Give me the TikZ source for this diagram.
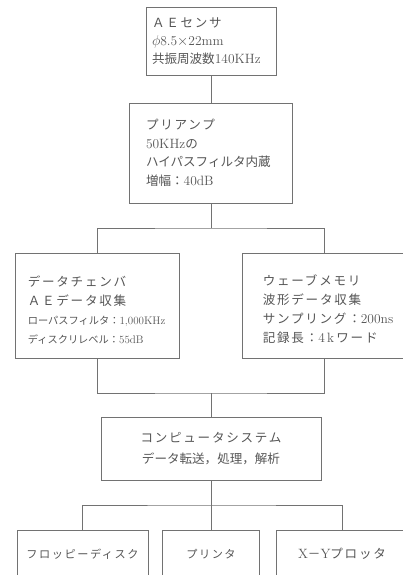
\documentclass[tikz,border=0pt]{standalone}
\usepackage{fontspec}
\newfontfamily\jp[Scale=0.93]{Noto Sans CJK JP}
\newfontfamily\jpw[Scale=0.93,LetterSpace=14]{Noto Sans CJK JP}
\definecolor{ink}{HTML}{555555}
\definecolor{rulec}{HTML}{727272}
\begin{document}
\begin{tikzpicture}[x=1pt,y=-1pt,
  box/.style={draw=rulec, line width=0.8pt, text=ink, inner sep=0pt, rectangle},
  txt/.style={text=ink, inner sep=0pt, align=left, anchor=west},
  conn/.style={draw=rulec, line width=0.8pt}]
\path[use as bounding box] (0,0) rectangle (403,575);
\clip (0,0) rectangle (403,575);

\node[box, minimum width=130pt, minimum height=68pt, text width=118pt, align=left,
      font=\fontsize{13.5}{18}\selectfont] (sensor) at (211,41)
  {{\jpw ＡＥセンサ}\\$\phi$8.5$\times$22mm\\{\jp 共振周波数}140KHz};

\node[box, minimum width=163pt, minimum height=100pt, text width=130pt, align=left,
      font=\fontsize{13.5}{18.5}\selectfont] (pre) at (211,153)
  {{\jpw プリアンプ}\\50KHz{\jp の}\\{\jp ハイパスフィルタ内蔵}\\{\jp 増幅：}40dB};

\node[box, minimum width=164pt, minimum height=105pt] (chamber) at (97,305.5) {};
\node[txt, font=\fontsize{13.5}{19}\selectfont] (chambertext) at (chamber.west) [xshift=13pt, yshift=-5pt]
  {{\jpw データチェンバ}\\{\jpw ＡＥデータ収集}\\{\fontsize{11}{19}\selectfont{\jp ローパスフィルタ：}1,000KHz}\\{\fontsize{11}{19}\selectfont{\jp ディスクリレベル：}55dB}};

\node[box, minimum width=164pt, minimum height=105pt] (wave) at (324,305.5) {};
\node[txt, font=\fontsize{13.5}{19}\selectfont] (wavetext) at (wave.west) [xshift=21pt, yshift=-4pt]
  {{\jpw ウェーブメモリ}\\{\jpw 波形データ収集}\\{\jpw サンプリング：}200ns\\{\jpw 記録長：}4\,k\,{\jpw ワード}};

\node[box, minimum width=220pt, minimum height=63pt, align=center,
      font=\fontsize{13.5}{21}\selectfont] (comp) at (211,448.5)
  {{\jpw コンピュータシステム}\\{\jp データ転送，処理，解析}};

\node[box, minimum width=131pt, minimum height=48pt, font=\fontsize{12}{13}\selectfont] (floppy) at (82.5,554)
  {\jpw フロッピーディスク};
\node[box, minimum width=97pt, minimum height=48pt, font=\fontsize{12}{13}\selectfont] (printer) at (211,554)
  {\jpw プリンタ};
\node[box, minimum width=132pt, minimum height=48pt, font=\fontsize{13.5}{13}\selectfont] (xy) at (342,554)
  {X{\jp －}Y{\jpw プロッタ}};

\coordinate (j1) at (211,228);
\coordinate (j2) at (211,393);
\coordinate (j3) at (211,505);

\draw[conn] (sensor.south) -- (pre.north);
\draw[conn] (pre.south) -- (j1);
\draw[conn] (chamber.north) |- (j1) -| (wave.north);
\draw[conn] (chamber.south) |- (j2) -| (wave.south);
\draw[conn] (j2) -- (comp.north);
\draw[conn] (comp.south) -- (j3);
\draw[conn] (floppy.north) |- (j3) -| (xy.north);
\draw[conn] (j3) -- (printer.north);
\end{tikzpicture}
\end{document}
